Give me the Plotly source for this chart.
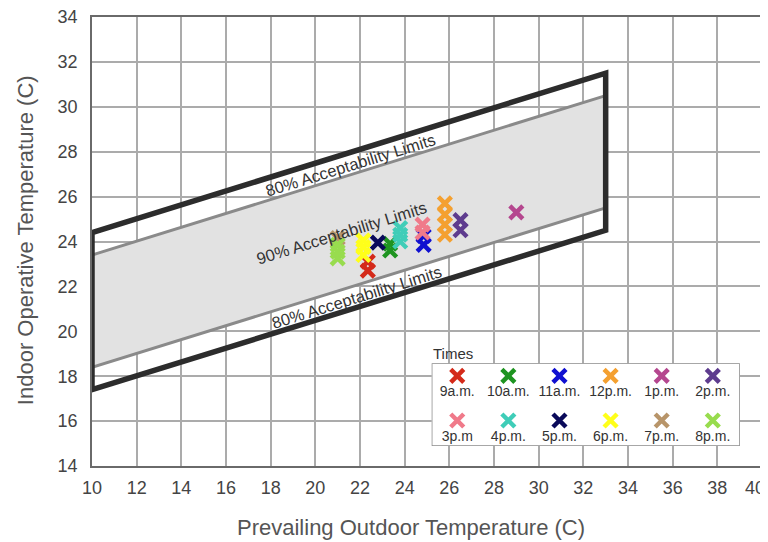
import plotly.graph_objects as go

# ---------------- data ----------------
times = ["9a.m.", "10a.m.", "11a.m.", "12p.m.", "1p.m.", "2p.m.",
         "3p.m", "4p.m.", "5p.m.", "6p.m.", "7p.m.", "8p.m."]
colors = ["#d42a1a", "#1e9420", "#1010d0", "#f4a030", "#b5478f", "#5e3c8e",
          "#f07a8a", "#3fcdb8", "#0a0a5a", "#ffff1a", "#b8956a", "#98dc4e"]

x_9am = [22.35, 22.35];            y_9am = [22.7, 23.1]
x_10am = [23.35, 23.35];           y_10am = [23.6, 23.9]
x_11am = [24.85, 24.85];           y_11am = [23.85, 24.25]
x_12pm = [25.8, 25.8, 25.8, 25.8]; y_12pm = [24.3, 24.75, 25.2, 25.7]
x_1pm = [29.0];                    y_1pm = [25.3]
x_2pm = [26.5, 26.5];              y_2pm = [24.5, 24.95]
x_3pm = [24.8, 24.8];              y_3pm = [24.4, 24.75]
x_4pm = [23.8, 23.8, 23.8];        y_4pm = [24.0, 24.3, 24.6]
x_5pm = [22.8];                    y_5pm = [23.95]
x_6pm = [22.15, 22.15, 22.15];     y_6pm = [23.4, 23.75, 24.05]
x_7pm = [21.0];                    y_7pm = [24.15]
x_8pm = [21.0, 21.0, 21.0];        y_8pm = [23.25, 23.55, 23.85]

series_x = [x_9am, x_10am, x_11am, x_12pm, x_1pm, x_2pm,
            x_3pm, x_4pm, x_5pm, x_6pm, x_7pm, x_8pm]
series_y = [y_9am, y_10am, y_11am, y_12pm, y_1pm, y_2pm,
            y_3pm, y_4pm, y_5pm, y_6pm, y_7pm, y_8pm]

# acceptability limits (endpoints at prevailing outdoor 10 and 33 C)
limit_x = [10, 33]
upper80 = [24.4, 31.5]
lower80 = [17.4, 24.5]
upper90 = [23.4, 30.5]
lower90 = [18.4, 25.5]

x_ticks = list(range(10, 41, 2))
y_ticks = list(range(14, 35, 2))
# last x label (40) sits on the page edge; it is drawn separately, nudged inside
x_tick_labels = [str(v) for v in x_ticks[:-1]] + [""]

FONT = "Liberation Sans, Arial, sans-serif"
fig = go.Figure()

# 90% band fill
fig.add_trace(go.Scatter(
    x=[limit_x[0], limit_x[1], limit_x[1], limit_x[0], limit_x[0]],
    y=[upper90[0], upper90[1], lower90[1], lower90[0], upper90[0]],
    mode="lines", fill="toself", fillcolor="#e2e2e2",
    line=dict(width=0, color="rgba(0,0,0,0)"),
    hoverinfo="skip", showlegend=False))
# 90% lines
for yy in (upper90, lower90):
    fig.add_trace(go.Scatter(x=limit_x, y=yy, mode="lines",
                             line=dict(color="#8a8a8a", width=3),
                             hoverinfo="skip", showlegend=False))
# 80% outline
fig.add_trace(go.Scatter(
    x=[limit_x[0], limit_x[1], limit_x[1], limit_x[0], limit_x[0]],
    y=[upper80[0], upper80[1], lower80[1], lower80[0], upper80[0]],
    mode="lines", line=dict(color="#2c2c2c", width=5.5),
    hoverinfo="skip", showlegend=False))

# data points
for name, col, xs, ys in zip(times, colors, series_x, series_y):
    fig.add_trace(go.Scatter(
        x=xs, y=ys, mode="markers", name=name,
        marker=dict(symbol="x-thin", size=13, color=col,
                    line=dict(color=col, width=4.5)),
        showlegend=False))

# custom legend on inset axes (marker above label, 2 rows x 6 columns)
leg_cols = 6
leg_xr = [-0.5, 5.53]
leg_yr = [1.57, -0.28]
leg_x = [i % leg_cols for i in range(len(times))]
leg_y = [i // leg_cols for i in range(len(times))]
fig.add_shape(type="rect", xref="x2", yref="y2",
              x0=leg_xr[0], x1=leg_xr[1], y0=leg_yr[0], y1=leg_yr[1],
              line=dict(color="#8a8a8a", width=1.5), fillcolor="white",
              layer="below")
fig.add_trace(go.Scatter(
    x=leg_x, y=leg_y, xaxis="x2", yaxis="y2", mode="markers",
    marker=dict(symbol="x-thin", size=13, color=colors,
                line=dict(color=colors, width=4.5)),
    hoverinfo="skip", showlegend=False))
fig.add_trace(go.Scatter(
    x=leg_x, y=[v + 0.38 for v in leg_y], xaxis="x2", yaxis="y2",
    mode="text", text=times, textposition="middle center",
    textfont=dict(family=FONT, size=14, color="#333333"),
    hoverinfo="skip", showlegend=False))

annots = [
    dict(x=21.15, y=24.4, text="90% Acceptability Limits"),
    dict(x=21.56, y=27.4, text="80% Acceptability Limits"),
    dict(x=21.86, y=21.55, text="80% Acceptability Limits"),
]
for a in annots:
    fig.add_annotation(x=a["x"], y=a["y"], xref="x", yref="y", text=a["text"],
                       showarrow=False, textangle=-17.2,
                       font=dict(family=FONT, size=16.5, color="#333333"),
                       xanchor="center", yanchor="middle")
fig.add_annotation(x=-0.003, y=1, xref="x2 domain", yref="y2 domain", text="Times",
                   showarrow=False, xanchor="left", yanchor="bottom", yshift=-1,
                   font=dict(family=FONT, size=15, color="#333333"))

# last x tick label, kept inside the page
fig.add_annotation(x=x_ticks[-1], y=0, xref="x", yref="paper", text=str(x_ticks[-1]),
                   showarrow=False, xanchor="center", yanchor="middle",
                   xshift=-7, yshift=-22,
                   font=dict(family=FONT, size=18, color="#444444"))

# axis titles
fig.add_annotation(x=0.476, y=-0.136, xref="paper", yref="paper",
                   text="Prevailing Outdoor Temperature (C)", showarrow=False,
                   xanchor="center", yanchor="middle",
                   font=dict(family=FONT, size=22, color="#555555"))
fig.add_annotation(x=-0.1, y=0.503, xref="paper", yref="paper",
                   text="Indoor Operative Temperature (C)", showarrow=False,
                   textangle=-90, xanchor="center", yanchor="middle",
                   font=dict(family=FONT, size=22, color="#555555"))

axis_common = dict(showgrid=True, gridcolor="#ababab", gridwidth=1.5,
                   showline=True, linecolor="#6a6a6a", linewidth=1.5,
                   mirror=True, zeroline=False, ticks="", automargin=False,
                   ticklabeloverflow="allow",
                   tickfont=dict(family=FONT, size=18, color="#444444"))

# the page body has an 8px default margin, so the figure is 8px smaller
fig.update_layout(
    width=760, height=534, autosize=False,
    margin=dict(l=84, r=6, t=9, b=76),
    paper_bgcolor="white", plot_bgcolor="white",
    showlegend=False,
    xaxis=dict(range=[10, 40], tickvals=x_ticks, ticktext=x_tick_labels,
               ticklabelstandoff=5, **axis_common),
    yaxis=dict(range=[14, 34], tickvals=y_ticks, ticklabelstandoff=9,
               **axis_common),
    xaxis2=dict(domain=[0.507, 0.967], range=leg_xr, visible=False,
                anchor="y2", fixedrange=True),
    yaxis2=dict(domain=[0.0445, 0.2287], range=leg_yr, visible=False,
                anchor="x2", fixedrange=True),
)

fig.write_html("out.html")
